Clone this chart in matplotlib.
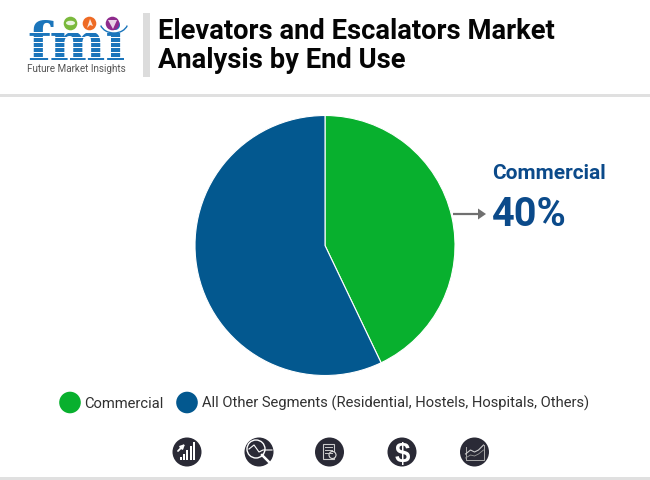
import matplotlib
matplotlib.use("Agg")
import matplotlib.pyplot as plt
from matplotlib.patches import Rectangle, Circle, Polygon, Ellipse, Arc

categories = ["Commercial", "All Other Segments (Residential, Hostels, Hospitals, Others)"]
drawn_shares = [42.9, 57.1]
colors = ["#08B02E", "#03588F"]
title_lines = ["Elevators and Escalators Market", "Analysis by End Use"]
callout_name = "Commercial"
callout_value = "40%"
logo_caption = "Future Market Insights"

W, H = 650, 480
fig = plt.figure(figsize=(W/100, H/100), dpi=100, facecolor="white")
bg = fig.add_axes([0, 0, 1, 1])
bg.set_xlim(0, W); bg.set_ylim(H, 0); bg.axis("off")
F = "Roboto"

# header / footer bands
bg.add_patch(Rectangle((0, 94), W, 2.5, color="#E0E0E0", lw=0))
bg.add_patch(Rectangle((0, 477), W, 3, color="#E0E0E0", lw=0))
bg.add_patch(Rectangle((142.5, 13), 7.5, 64, color="#DCDCDC", lw=0))

# title
bg.text(158, 31.5, title_lines[0], fontsize=19.7, fontweight="bold", family=F, color="#050505", va="center")
bg.text(158, 61, title_lines[1], fontsize=19.7, fontweight="bold", family=F, color="#050505", va="center")

# logo
bg.text(77, 60, "fmi", fontsize=38, fontweight="bold", family="DejaVu Serif", color="#1B75BB",
        ha="center", va="baseline")
for y in [32, 37, 42, 47, 52, 57]:
    bg.add_patch(Rectangle((25, y), 105, 0.9, color="white", lw=0, zorder=3))
for x, c in [(70.5, "#7AB93C"), (89.5, "#EE6A24"), (112.5, "#8E2A8C")]:
    bg.add_patch(Circle((x, 23.5), 6.8, color=c, lw=0, zorder=4))
bg.add_patch(Ellipse((70.5, 23), 9, 4.5, color="white", alpha=.85, lw=0, zorder=5))
bg.add_patch(Polygon([[87, 28], [90, 19], [93, 26], [90, 25]], color="white", alpha=.85, lw=0, zorder=5))
bg.add_patch(Polygon([[108, 20], [117, 20], [113, 29]], color="white", alpha=.8, lw=0, zorder=5))
bg.add_patch(Arc((114, 22), 28, 22, theta1=15, theta2=165, color="#1B75BB", lw=1, zorder=4))
bg.text(76.5, 69, logo_caption, fontsize=7.1, family=F, color="#555555", ha="center", va="center")

# pie
R, cx, cy = 130, 325, 245.5
pie_ax = fig.add_axes([(cx-R)/W, 1-(cy+R)/H, 2*R/W, 2*R/H])
pie_ax.pie(drawn_shares, colors=colors, startangle=90, counterclock=False, radius=1,
           wedgeprops=dict(linewidth=0.8, edgecolor="white"))
pie_ax.set_xlim(-1, 1); pie_ax.set_ylim(-1, 1)

# callout
bg.text(492, 173.5, callout_name, fontsize=15, fontweight="bold", family=F, color="#0B4A8A", va="center")
bg.text(492, 214.5, callout_value, fontsize=28.5, fontweight="bold", family=F, color="#0B4A8A", va="center")
bg.plot([453, 480], [214, 214], color="#707070", lw=1.6, solid_capstyle="butt")
bg.add_patch(Polygon([[478, 208.5], [486, 214], [478, 219.5]], color="#707070", lw=0))

# legend
bg.add_patch(Circle((70, 402.5), 10.8, color=colors[0], lw=0))
bg.text(84.5, 403.5, categories[0], fontsize=10.65, family=F, color="#303030", va="center")
bg.add_patch(Circle((187, 402.5), 10.8, color=colors[1], lw=0))
bg.text(202.5, 403.5, categories[1], fontsize=10.65, family=F, color="#303030", va="center")

# footer icons
ink = "#2A2A36"
xs = [187, 259, 329.5, 402, 474.5]
for x in xs:
    bg.add_patch(Circle((x, 452), 14.5, color=ink, lw=0))
# icon 1: rising bars with arrow
x = xs[0]
for i, h in enumerate([3, 6, 10, 14, 18]):
    bg.add_patch(Rectangle((x-7+i*3.2, 460-h), 2, h, color="white", lw=0))
bg.annotate("", xy=(x-2, 444), xytext=(x-9, 451),
            arrowprops=dict(arrowstyle="-|>", color="white", lw=1.3, mutation_scale=6, shrinkA=0, shrinkB=0))
# icon 2: magnifier
x = xs[1]
bg.add_patch(Circle((x-3, 449), 9, fill=False, ec="white", lw=1))
bg.plot([x+3, x+11], [455, 463], color="white", lw=1.8)
bg.plot([x-10, x-5, x, x+4, x+13], [449, 445, 452, 450, 450], color="white", lw=.8)
# icon 3: document
x = xs[2]
bg.add_patch(Rectangle((x-7, 444), 11, 15, fill=False, ec="#CCCCCC", lw=.8))
for yy in [447, 450, 453]:
    bg.plot([x-5, x+2], [yy, yy], color="#CCCCCC", lw=.7)
bg.add_patch(Circle((x+3, 455), 3.5, fc=ink, ec="#DDDDDD", lw=.8))
# icon 4: dollar
bg.text(xs[3], 452, "$", fontsize=20, fontweight="bold", family="Liberation Sans", color="white", ha="center", va="center_baseline")
# icon 5: area chart
x = xs[4]
bg.plot([x-9, x-9, x+9, x+9], [447, 460, 460, 445], color="#AAAAAA", lw=.7)
bg.plot([x-9, x-4, x, x+4, x+9], [454, 450, 452, 450, 445], color="#CCCCCC", lw=.8)
bg.plot([x-9, x-4, x, x+4, x+9], [458, 455, 456, 454, 450], color="#999999", lw=.6)

fig.savefig("out.png", dpi=100, facecolor="white")
